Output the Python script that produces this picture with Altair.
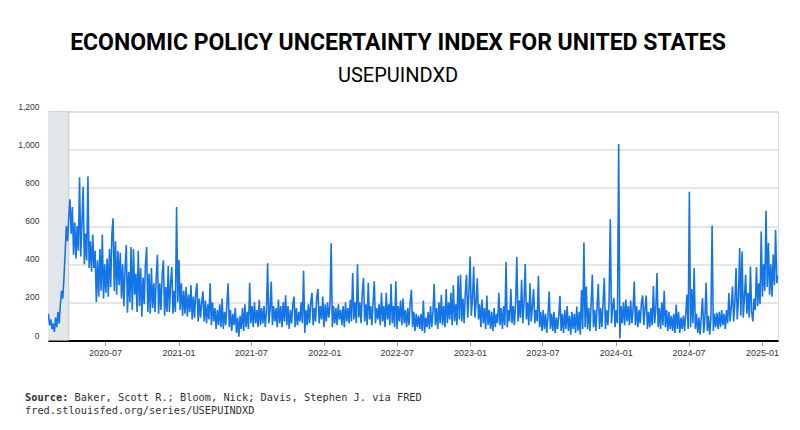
import altair as alt
import pandas as pd

TITLE = "ECONOMIC POLICY UNCERTAINTY INDEX FOR UNITED STATES"
SUBTITLE = "USEPUINDXD"
SOURCE_LABEL = "Source:"
SOURCE_TEXT = "Baker, Scott R.; Bloom, Nick; Davis, Stephen J. via FRED"
SOURCE_URL = "fred.stlouisfed.org/series/USEPUINDXD"

START_DATE = "2020-02-10"
STEP_DAYS = 3
RECESSION_START = ["2020-02-01"]
RECESSION_END = ["2020-04-01"]
Y_TICKS = [0, 200, 400, 600, 800, 1000, 1200]
X_TICK_MONTHS = [(2020, 7), (2021, 1), (2021, 7), (2022, 1), (2022, 7),
                 (2023, 1), (2023, 7), (2024, 1), (2024, 7), (2025, 1)]

# Values, one every 3 days
# 2020-02-10 .. 2020-12-03
EPU_A = [140, 80, 110, 60, 90, 45, 120, 70, 150, 90,
         190, 260, 220, 330, 460, 600, 520, 650, 740, 560,
         700, 450, 620, 430, 600, 470, 855, 440, 620, 805,
         400, 560, 420, 860, 380, 520, 360, 555, 380, 470,
         200, 420, 230, 480, 260, 555, 220, 400, 250, 430,
         230, 480, 280, 560, 640, 260, 520, 240, 470, 290,
         460, 220, 400, 180, 380, 500, 145, 360, 200, 490,
         160, 480, 240, 350, 150, 470, 180, 380, 125, 330,
         190, 400, 490, 150, 350, 140, 380, 170, 300, 150,
         330, 449, 140, 300, 160, 350, 420, 130, 280, 150]
# 2020-12-06 .. 2021-09-29
EPU_B = [390, 150, 300, 385, 140, 260, 150, 700, 200, 422,
         160, 300, 130, 260, 140, 280, 125, 240, 150, 290,
         110, 230, 120, 250, 300, 100, 220, 120, 200, 257,
         100, 210, 90, 190, 110, 300, 80, 200, 100, 170,
         60, 160, 80, 190, 70, 220, 60, 150, 80, 190,
         300, 70, 160, 50, 140, 80, 170, 40, 120, 20,
         130, 60, 170, 50, 190, 70, 150, 60, 303, 90,
         180, 70, 200, 90, 160, 70, 213, 80, 170, 90,
         180, 70, 150, 405, 90, 160, 309, 80, 180, 100,
         170, 70, 215, 90, 180, 70, 200, 100, 237, 80]
# 2021-10-02 .. 2022-07-26
EPU_C = [180, 60, 160, 90, 190, 230, 70, 170, 80, 150,
         100, 200, 90, 366, 40, 160, 80, 190, 90, 200,
         250, 80, 170, 100, 230, 270, 90, 180, 110, 230,
         70, 190, 100, 200, 120, 180, 510, 70, 180, 90,
         170, 80, 190, 110, 160, 80, 180, 70, 200, 100,
         170, 90, 213, 100, 354, 110, 200, 90, 400, 120,
         200, 90, 250, 328, 100, 190, 80, 302, 110, 180,
         80, 200, 310, 90, 170, 110, 190, 80, 250, 100,
         180, 70, 250, 110, 190, 80, 297, 90, 180, 70,
         310, 60, 180, 100, 210, 80, 220, 90, 160, 70]
# 2022-07-29 .. 2023-05-23
EPU_D = [170, 80, 200, 266, 70, 150, 50, 140, 70, 130,
         60, 140, 50, 210, 40, 120, 70, 150, 60, 180,
         70, 150, 297, 80, 170, 60, 200, 90, 240, 80,
         180, 70, 270, 90, 200, 110, 250, 80, 290, 100,
         190, 80, 339, 110, 344, 100, 220, 90, 250, 344,
         120, 250, 440, 130, 220, 388, 120, 200, 326, 110,
         190, 70, 215, 90, 170, 60, 235, 80, 160, 60,
         150, 50, 170, 70, 140, 90, 250, 80, 170, 60,
         180, 80, 411, 70, 160, 100, 270, 90, 180, 80,
         200, 438, 100, 210, 120, 318, 90, 200, 401, 110]
# 2023-05-26 .. 2024-03-18
EPU_E = [200, 80, 300, 100, 180, 270, 90, 160, 100, 339,
         70, 150, 50, 160, 60, 140, 40, 130, 257, 60,
         140, 50, 150, 40, 120, 60, 130, 234, 50, 140,
         40, 160, 60, 180, 50, 130, 30, 150, 60, 140,
         40, 178, 50, 150, 30, 265, 60, 513, 70, 283,
         60, 170, 50, 190, 344, 70, 160, 50, 180, 297,
         60, 170, 70, 200, 328, 60, 160, 80, 200, 635,
         90, 180, 224, 70, 160, 90, 1030, 10, 180, 90,
         200, 80, 215, 100, 180, 80, 210, 90, 160, 309,
         80, 180, 70, 160, 90, 200, 236, 80, 170, 236]
# 2024-03-21 .. 2025-02-10
EPU_F = [60, 150, 70, 170, 80, 286, 90, 160, 354, 70,
         170, 60, 200, 80, 260, 70, 160, 50, 150, 60,
         130, 50, 140, 40, 187, 60, 150, 40, 120, 60,
         130, 50, 140, 240, 60, 780, 70, 270, 90, 380,
         60, 140, 40, 120, 30, 130, 221, 40, 120, 302,
         50, 130, 30, 120, 602, 50, 140, 70, 145, 60,
         150, 70, 160, 80, 140, 60, 160, 90, 249, 100,
         180, 283, 100, 200, 380, 110, 220, 485, 130, 466,
         120, 230, 344, 140, 250, 120, 388, 150, 100, 220,
         160, 385, 180, 300, 190, 571, 230, 400, 260, 680,
         280, 511, 240, 400, 230, 450, 290, 580, 300, 340]

values = EPU_A + EPU_B + EPU_C + EPU_D + EPU_E + EPU_F
dates = pd.date_range(START_DATE, periods=len(values), freq=f"{STEP_DAYS}D").strftime("%Y-%m-%d")
df = pd.DataFrame({"date": list(dates), "value": values})
rec_df = pd.DataFrame({"start": RECESSION_START, "end": RECESSION_END})

W, H = 730, 229
LINE_COLOR = "#1575e6"
LABEL_FONT = "Liberation Sans"
TITLE_FONT = "Roboto"
MONO = "DejaVu Sans Mono"

x_scale = alt.Scale(domain=[alt.DateTime(year=2020, month=2, date=9),
                            alt.DateTime(year=2025, month=2, date=10)])
x_axis = alt.Axis(values=[alt.DateTime(year=y, month=m, date=1) for y, m in X_TICK_MONTHS],
                  format="%Y-%m", title=None, grid=False, domainColor="#000000",
                  domainWidth=2, tickColor="#999999", tickSize=5, labelFontSize=9,
                  labelColor="#333333", labelPadding=3, labelFont=LABEL_FONT)
y_axis = alt.Axis(values=Y_TICKS, format=",d", title=None, grid=True,
                  gridColor="#cccccc", gridWidth=1, domain=False, ticks=False,
                  labelFontSize=8.5, labelColor="#333333", labelPadding=9,
                  labelBaseline="alphabetic", labelOffset=-2.5, labelFont=LABEL_FONT)
y_scale = alt.Scale(domain=[0, 1200], nice=False)

shade = alt.Chart(rec_df).mark_rect(color="#e2e6eb", stroke="#c3c8ce",
                                    strokeWidth=1, clip=True).encode(
    x=alt.X("start:T", scale=x_scale, axis=x_axis),
    x2="end:T",
)

line = alt.Chart(df).mark_line(color=LINE_COLOR, strokeWidth=1.6, clip=True).encode(
    x=alt.X("date:T", scale=x_scale, axis=x_axis),
    y=alt.Y("value:Q", scale=y_scale, axis=y_axis),
)

src1 = alt.Chart(pd.DataFrame({"t": [SOURCE_LABEL]})).mark_text(
    font=MONO, fontSize=10.3, fontWeight="bold", color="#333333",
    align="left", baseline="middle").encode(
    text="t:N", x=alt.value(-23), y=alt.value(286.5))
src2 = alt.Chart(pd.DataFrame({"t": [SOURCE_TEXT]})).mark_text(
    font=MONO, fontSize=10.3, color="#333333",
    align="left", baseline="middle").encode(
    text="t:N", x=alt.value(-23 + 8 * 6.2), y=alt.value(286.5))
src3 = alt.Chart(pd.DataFrame({"t": [SOURCE_URL]})).mark_text(
    font=MONO, fontSize=10.3, color="#333333",
    align="left", baseline="middle").encode(
    text="t:N", x=alt.value(-23), y=alt.value(299.5))

chart = alt.layer(shade, line, src1, src2, src3).properties(
    width=W, height=H,
    autosize=alt.AutoSizeParams(type="none"),
    padding={"left": 40, "top": 103.5, "right": 14, "bottom": 81.5},
    title=alt.TitleParams(
        text=TITLE, subtitle=SUBTITLE, anchor="middle",
        font=TITLE_FONT, fontSize=23, fontWeight="bold", color="#000000",
        subtitleFont=TITLE_FONT, subtitleFontSize=20, subtitleColor="#000000",
        subtitlePadding=10.5, offset=16.5, dx=-15),
).configure_view(stroke=None).configure(background="#ffffff")

chart.save("out.html", embed_options={"renderer": "svg", "actions": False})
